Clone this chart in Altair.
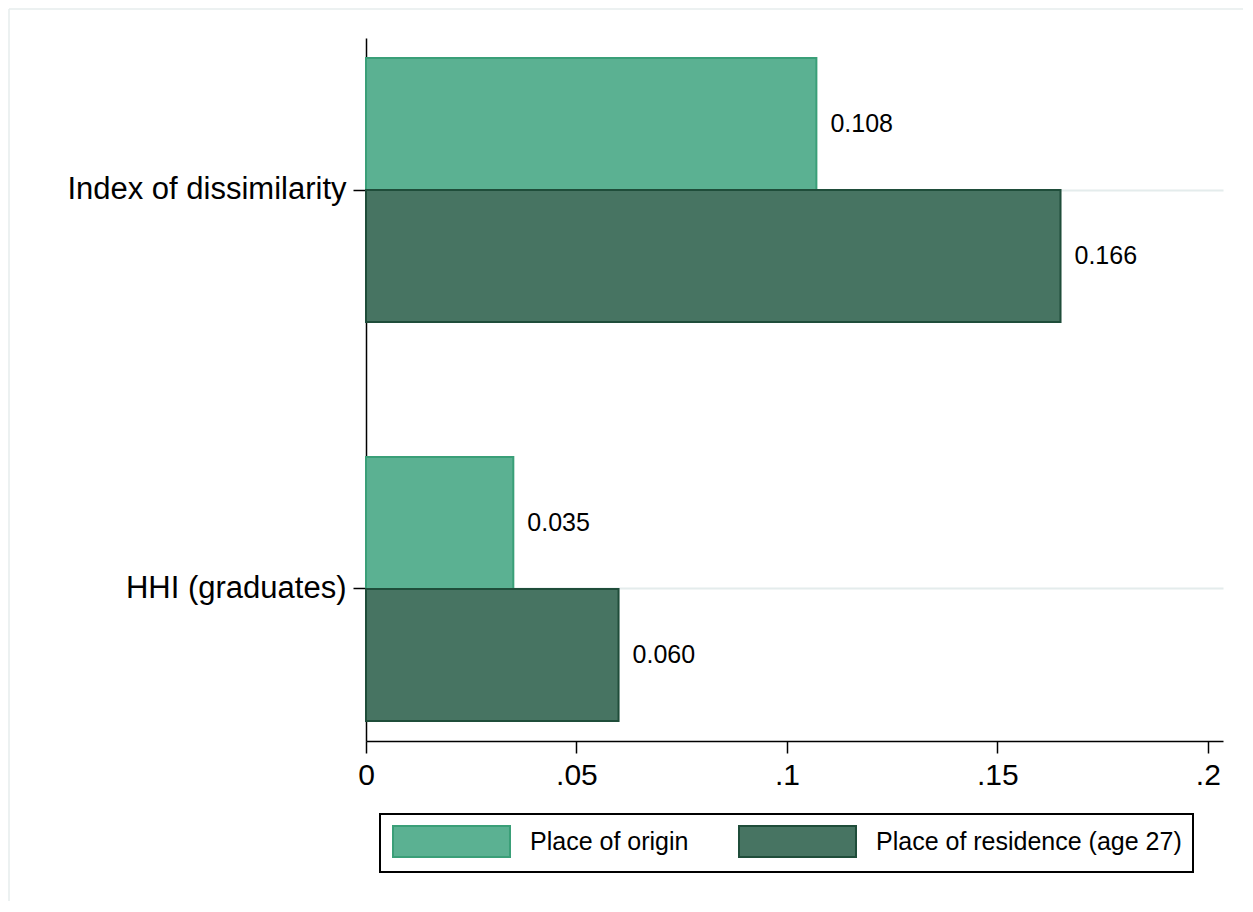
import altair as alt
import pandas as pd

categories = ["Index of dissimilarity", "HHI (graduates)"]
series = ["Place of origin", "Place of residence (age 27)"]
origin_values = [0.107, 0.035]
residence_values = [0.165, 0.060]
origin_labels = ["0.108", "0.035"]
residence_labels = ["0.166", "0.060"]
x_ticks = [0, 0.05, 0.1, 0.15, 0.2]
x_tick_labels = ["0", ".05", ".1", ".15", ".2"]

fill_colors = ["#5bb192", "#477462"]
stroke_colors = ["#3a9f78", "#1f4d3a"]
FONT = "Liberation Sans"

rows = []
for i, c in enumerate(categories):
    rows.append({"category": c, "series": series[0], "value": origin_values[i], "label": origin_labels[i]})
    rows.append({"category": c, "series": series[1], "value": residence_values[i], "label": residence_labels[i]})
df = pd.DataFrame(rows)

label_expr = ""
for v, l in zip(x_ticks, x_tick_labels):
    label_expr += f"abs(datum.value - {v}) < 1e-9 ? '{l}' : "
label_expr += "''"

y_enc = alt.Y(
    "category:N", sort=categories,
    scale=alt.Scale(paddingInner=0.338, paddingOuter=0.05),
    axis=alt.Axis(title=None, labelFontSize=31, labelFont=FONT, labelColor="black", labelLimit=0,
                  domainColor="black", domainWidth=1.5, tickColor="black", tickSize=13,
                  tickWidth=1.5, labelPadding=7, grid=True, gridColor="#e4ecec", gridWidth=2),
)
yoff_enc = alt.YOffset("series:N", sort=series, scale=alt.Scale(paddingInner=0, paddingOuter=0))
x_enc = alt.X(
    "value:Q",
    scale=alt.Scale(domain=[0, 0.2036], nice=False, zero=True),
    axis=alt.Axis(title=None, values=x_ticks, labelExpr=label_expr, grid=False,
                  labelFontSize=30, labelFont=FONT, labelColor="black", labelFlush=False,
                  labelOverlap=False,
                  domainColor="black", domainWidth=1.5, tickColor="black", tickSize=12,
                  tickWidth=1.5, labelPadding=7),
)

# wide rectangular legend swatches (117 x 31 px)
leg = alt.Legend(
    title=None, orient="none", legendX=14, legendY=776, direction="horizontal",
    columns=2, columnPadding=46,
    symbolType="M-3.774,-1L3.774,-1L3.774,1L-3.774,1Z", symbolSize=961,
    symbolOffset=44, symbolStrokeWidth=2, symbolOpacity=1,
    labelFontSize=25, labelFont=FONT, labelColor="black", labelOffset=62, labelLimit=0,
    padding=11, strokeColor="black",
)

bars = alt.Chart(df).mark_bar(strokeWidth=2, opacity=1).encode(
    x=x_enc,
    y=y_enc,
    yOffset=yoff_enc,
    fill=alt.Fill("series:N", sort=series, scale=alt.Scale(domain=series, range=fill_colors), legend=leg),
    stroke=alt.Stroke("series:N", sort=series, scale=alt.Scale(domain=series, range=stroke_colors), legend=leg),
)

text = alt.Chart(df).mark_text(align="left", baseline="middle", dx=14, fontSize=25,
                               font=FONT, color="black").encode(
    x=alt.X("value:Q"),
    y=alt.Y("category:N", sort=categories),
    yOffset=alt.YOffset("series:N", sort=series),
    text="label:N",
)

one = pd.DataFrame({"a": [0]})
frame_left = alt.Chart(one).mark_rule(color="#e6eded", strokeWidth=1.5).encode(
    x=alt.value(-357), y=alt.value(-29), y2=alt.value(900)
)
frame_top = alt.Chart(one).mark_rule(color="#e6eded", strokeWidth=1.5).encode(
    x=alt.value(-357), x2=alt.value(877), y=alt.value(-29)
)

chart = alt.layer(frame_left, frame_top, bars, text).properties(
    width=857, height=703,
    padding={"left": 358, "top": 30, "right": 20, "bottom": 160},
    autosize=alt.AutoSizeParams(type="none"),
).configure_view(stroke=None).configure_legend(strokeWidth=2)

chart.save("out.html", embed_options={"renderer": "svg", "actions": False})
